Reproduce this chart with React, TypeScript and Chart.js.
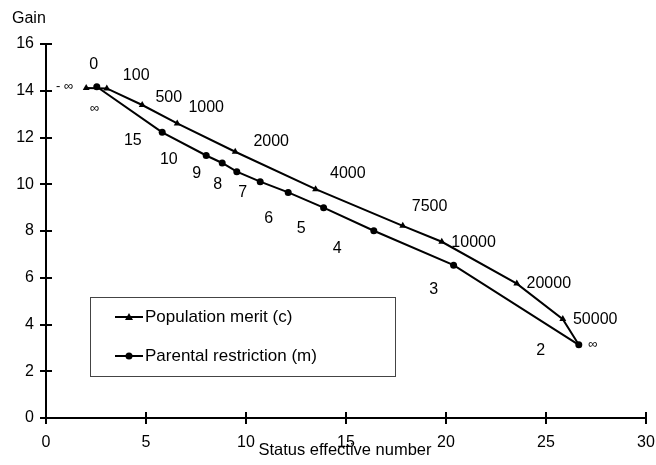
import React, { useEffect, useRef } from "react";
import { Chart, registerables } from "chart.js";

Chart.register(...registerables);

// ---- data ----
const meritX = [2.01, 3.04, 4.81, 6.56, 9.46, 13.48, 17.84, 19.79, 23.54, 25.84, 26.64];
const meritY = [14.12, 14.1, 13.39, 12.6, 11.39, 9.79, 8.22, 7.54, 5.75, 4.23, 3.13];

const parentX = [2.54, 5.81, 8.01, 8.81, 9.54, 10.71, 12.11, 13.88, 16.39, 20.38, 26.64];
const parentY = [14.17, 12.22, 11.23, 10.91, 10.54, 10.11, 9.65, 9.0, 8.01, 6.54, 3.13];

const meritLabelText = ["- ∞", "0", "100", "500", "1000", "2000", "4000", "7500", "10000", "20000", "50000", "∞"];
const meritLabelX = [0.93, 2.39, 4.51, 6.14, 8.01, 11.26, 15.09, 19.18, 21.38, 25.14, 27.46, 27.34];
const meritLabelY = [14.18, 15.12, 14.65, 13.72, 13.29, 11.83, 10.44, 9.05, 7.51, 5.75, 4.23, 3.13];

const parentLabelText = ["∞", "15", "10", "9", "8", "7", "6", "5", "4", "3", "2"];
const parentLabelX = [2.43, 4.34, 6.14, 7.54, 8.59, 9.84, 11.14, 12.76, 14.56, 19.38, 24.73];
const parentLabelY = [13.26, 11.86, 11.04, 10.44, 9.97, 9.65, 8.55, 8.11, 7.25, 5.51, 2.9];

const xTicks = [0, 5, 10, 15, 20, 25, 30];
const yTicks = [0, 2, 4, 6, 8, 10, 12, 14, 16];

const seriesNames = ["Population merit (c)", "Parental restriction (m)"];
const xTitle = "Status effective number";
const yTitle = "Gain";

const FONT = "'Liberation Sans', Arial, Helvetica, sans-serif";

const decorPlugin = {
  id: "decor",
  afterDraw(chart: any) {
    const ctx = chart.ctx as CanvasRenderingContext2D;
    const xs = chart.scales.x;
    const ys = chart.scales.y;
    const area = chart.chartArea;
    ctx.save();
    ctx.strokeStyle = "#000";
    ctx.fillStyle = "#000";
    ctx.lineWidth = 2;
    // inner tick halves
    ctx.beginPath();
    yTicks.forEach((v) => {
      const py = Math.round(ys.getPixelForValue(v));
      ctx.moveTo(area.left, py);
      ctx.lineTo(area.left + 6, py);
    });
    xTicks.forEach((v) => {
      const px = Math.round(xs.getPixelForValue(v));
      ctx.moveTo(px, area.bottom);
      ctx.lineTo(px, area.bottom - 6);
    });
    ctx.stroke();

    // point annotations
    ctx.textAlign = "center";
    ctx.textBaseline = "middle";
    const drawLabel = (t: string, x: number, y: number) => {
      ctx.font = (t.includes("∞") ? "13px " : "16px ") + FONT;
      ctx.fillText(t, xs.getPixelForValue(x), ys.getPixelForValue(y));
    };
    meritLabelText.forEach((t, i) => drawLabel(t, meritLabelX[i], meritLabelY[i]));
    parentLabelText.forEach((t, i) => drawLabel(t, parentLabelX[i], parentLabelY[i]));

    // axis titles
    ctx.font = "16px " + FONT;
    ctx.textAlign = "left";
    ctx.fillText(yTitle, 12, 19);
    ctx.font = "16.5px " + FONT;
    ctx.textAlign = "center";
    ctx.fillText(xTitle, (area.left + area.right) / 2 - 1, 450);

    // legend box
    const bx = area.left + 44;
    const by = 297;
    const bw = 305;
    const bh = 79;
    ctx.lineWidth = 1;
    ctx.strokeStyle = "#444";
    ctx.strokeRect(bx + 0.5, by + 0.5, bw, bh);
    const rows = [by + 20, by + 59];
    rows.forEach((ry, i) => {
      ctx.strokeStyle = "#000";
      ctx.lineWidth = 2;
      ctx.beginPath();
      ctx.moveTo(bx + 25, ry);
      ctx.lineTo(bx + 53, ry);
      ctx.stroke();
      const cx = bx + 39;
      ctx.beginPath();
      if (i === 0) {
        ctx.moveTo(cx, ry - 4);
        ctx.lineTo(cx + 4, ry + 3);
        ctx.lineTo(cx - 4, ry + 3);
        ctx.closePath();
      } else {
        ctx.arc(cx, ry, 3.5, 0, Math.PI * 2);
      }
      ctx.fill();
      ctx.font = "17px " + FONT;
      ctx.textAlign = "left";
      ctx.textBaseline = "middle";
      ctx.fillText(seriesNames[i], bx + 55, ry);
    });
    ctx.restore();
  },
};

export default function App() {
  const ref = useRef<HTMLCanvasElement | null>(null);
  useEffect(() => {
    if (!ref.current) return;
    const chart = new Chart(ref.current, {
      type: "scatter",
      data: {
        datasets: [
          {
            label: seriesNames[0],
            data: meritX.map((x, i) => ({ x, y: meritY[i] })),
            showLine: true,
            borderColor: "#000",
            backgroundColor: "#000",
            borderWidth: 2,
            pointStyle: "triangle",
            pointRadius: (c: any) => (c.dataIndex === meritX.length - 1 ? 0 : 4),
            pointBorderWidth: 0,
            tension: 0,
          },
          {
            label: seriesNames[1],
            data: parentX.map((x, i) => ({ x, y: parentY[i] })),
            showLine: true,
            borderColor: "#000",
            backgroundColor: "#000",
            borderWidth: 2,
            pointStyle: "circle",
            pointRadius: 3.5,
            pointBorderWidth: 0,
            tension: 0,
          },
        ],
      },
      options: {
        responsive: false,
        animation: false,
        layout: { padding: { top: 44, right: 10, left: 0, bottom: 0 } },
        plugins: { legend: { display: false }, tooltip: { enabled: false } },
        scales: {
          x: {
            type: "linear",
            min: 0,
            max: 30,
            afterBuildTicks: (s: any) => {
              s.ticks = xTicks.map((v) => ({ value: v }));
            },
            afterFit: (s: any) => {
              s.height = 47;
              s.paddingLeft = 0;
              s.paddingRight = 0;
            },
            grid: { drawOnChartArea: false, drawTicks: true, tickLength: 6, color: "#000", lineWidth: 2 },
            border: { display: true, color: "#000", width: 2 },
            ticks: { color: "#000", font: { family: FONT, size: 16 }, padding: 9, maxRotation: 0 },
          },
          y: {
            type: "linear",
            min: 0,
            max: 16,
            afterBuildTicks: (s: any) => {
              s.ticks = yTicks.map((v) => ({ value: v }));
            },
            afterFit: (s: any) => {
              s.width = 46;
              s.paddingTop = 0;
              s.paddingBottom = 0;
            },
            grid: { drawOnChartArea: false, drawTicks: true, tickLength: 6, color: "#000", lineWidth: 2 },
            border: { display: true, color: "#000", width: 2 },
            ticks: { color: "#000", font: { family: FONT, size: 16 }, padding: 6 },
          },
        },
      },
      plugins: [decorPlugin],
    } as any);
    return () => chart.destroy();
  }, []);
  return (
    <div style={{ position: "absolute", left: 0, top: 0, width: 656, height: 465, background: "#fff" }}>
      <canvas ref={ref} width={656} height={465} style={{ display: "block" }} />
    </div>
  );
}
